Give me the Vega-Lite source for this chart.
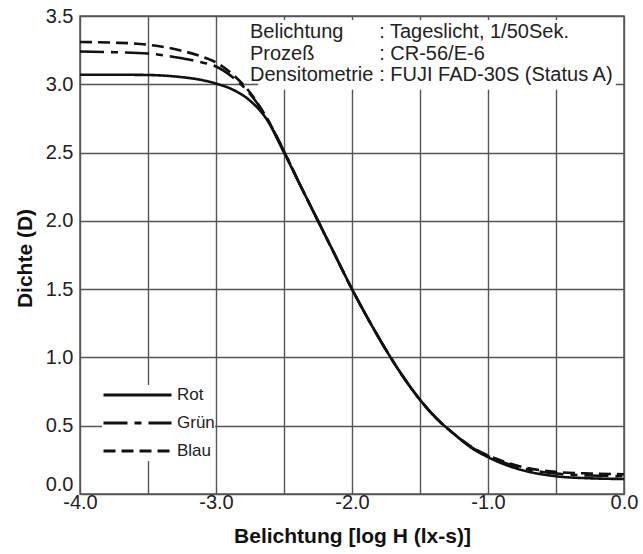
{
  "$schema": "https://vega.github.io/schema/vega-lite/v6.json",
  "width": 544,
  "height": 478,
  "autosize": "none",
  "padding": {"left": 80, "top": 16, "right": 19, "bottom": 60},
  "background": "white",
  "config": {
    "font": "Liberation Sans",
    "view": {"stroke": "#555", "strokeWidth": 1.5},
    "axis": {
      "domain": false,
      "ticks": false,
      "grid": true,
      "gridColor": "#555",
      "gridWidth": 1.4,
      "gridOpacity": 1,
      "labelFont": "Liberation Sans",
      "labelFontSize": 20,
      "labelColor": "#222",
      "titleFont": "Liberation Sans",
      "titleFontSize": 21,
      "titleFontWeight": "bold",
      "titleColor": "#111"
    }
  },
  "datasets": {
    "curves": [
      {"Kurve": "Rot", "logH": -4.0, "D": 3.07},
      {"Kurve": "Rot", "logH": -3.75, "D": 3.07},
      {"Kurve": "Rot", "logH": -3.5, "D": 3.068},
      {"Kurve": "Rot", "logH": -3.25, "D": 3.052},
      {"Kurve": "Rot", "logH": -3.125, "D": 3.035},
      {"Kurve": "Rot", "logH": -3.0, "D": 3.005},
      {"Kurve": "Rot", "logH": -2.875, "D": 2.96},
      {"Kurve": "Rot", "logH": -2.75, "D": 2.88},
      {"Kurve": "Rot", "logH": -2.625, "D": 2.74},
      {"Kurve": "Rot", "logH": -2.5, "D": 2.5},
      {"Kurve": "Rot", "logH": -2.375, "D": 2.25},
      {"Kurve": "Rot", "logH": -2.25, "D": 2.0},
      {"Kurve": "Rot", "logH": -2.125, "D": 1.75},
      {"Kurve": "Rot", "logH": -2.0, "D": 1.5},
      {"Kurve": "Rot", "logH": -1.875, "D": 1.27},
      {"Kurve": "Rot", "logH": -1.75, "D": 1.055},
      {"Kurve": "Rot", "logH": -1.625, "D": 0.86},
      {"Kurve": "Rot", "logH": -1.5, "D": 0.69},
      {"Kurve": "Rot", "logH": -1.375, "D": 0.55},
      {"Kurve": "Rot", "logH": -1.25, "D": 0.44},
      {"Kurve": "Rot", "logH": -1.125, "D": 0.34},
      {"Kurve": "Rot", "logH": -1.0, "D": 0.27},
      {"Kurve": "Rot", "logH": -0.875, "D": 0.215},
      {"Kurve": "Rot", "logH": -0.75, "D": 0.175},
      {"Kurve": "Rot", "logH": -0.5, "D": 0.13},
      {"Kurve": "Rot", "logH": -0.25, "D": 0.115},
      {"Kurve": "Rot", "logH": 0.0, "D": 0.11},
      {"Kurve": "Grün", "logH": -4.0, "D": 3.24},
      {"Kurve": "Grün", "logH": -3.75, "D": 3.235},
      {"Kurve": "Grün", "logH": -3.5, "D": 3.225},
      {"Kurve": "Grün", "logH": -3.25, "D": 3.19},
      {"Kurve": "Grün", "logH": -3.125, "D": 3.165},
      {"Kurve": "Grün", "logH": -3.0, "D": 3.13},
      {"Kurve": "Grün", "logH": -2.875, "D": 3.05},
      {"Kurve": "Grün", "logH": -2.75, "D": 2.93},
      {"Kurve": "Grün", "logH": -2.625, "D": 2.75},
      {"Kurve": "Grün", "logH": -2.5, "D": 2.51},
      {"Kurve": "Grün", "logH": -2.375, "D": 2.25},
      {"Kurve": "Grün", "logH": -2.25, "D": 2.0},
      {"Kurve": "Grün", "logH": -2.125, "D": 1.75},
      {"Kurve": "Grün", "logH": -2.0, "D": 1.5},
      {"Kurve": "Grün", "logH": -1.875, "D": 1.27},
      {"Kurve": "Grün", "logH": -1.75, "D": 1.055},
      {"Kurve": "Grün", "logH": -1.625, "D": 0.86},
      {"Kurve": "Grün", "logH": -1.5, "D": 0.69},
      {"Kurve": "Grün", "logH": -1.375, "D": 0.55},
      {"Kurve": "Grün", "logH": -1.25, "D": 0.44},
      {"Kurve": "Grün", "logH": -1.125, "D": 0.345},
      {"Kurve": "Grün", "logH": -1.0, "D": 0.277},
      {"Kurve": "Grün", "logH": -0.875, "D": 0.228},
      {"Kurve": "Grün", "logH": -0.75, "D": 0.19},
      {"Kurve": "Grün", "logH": -0.5, "D": 0.15},
      {"Kurve": "Grün", "logH": -0.25, "D": 0.135},
      {"Kurve": "Grün", "logH": 0.0, "D": 0.13},
      {"Kurve": "Blau", "logH": -4.0, "D": 3.31},
      {"Kurve": "Blau", "logH": -3.75, "D": 3.305},
      {"Kurve": "Blau", "logH": -3.5, "D": 3.29},
      {"Kurve": "Blau", "logH": -3.25, "D": 3.245},
      {"Kurve": "Blau", "logH": -3.125, "D": 3.21},
      {"Kurve": "Blau", "logH": -3.0, "D": 3.16},
      {"Kurve": "Blau", "logH": -2.875, "D": 3.07},
      {"Kurve": "Blau", "logH": -2.75, "D": 2.94},
      {"Kurve": "Blau", "logH": -2.625, "D": 2.75},
      {"Kurve": "Blau", "logH": -2.5, "D": 2.51},
      {"Kurve": "Blau", "logH": -2.375, "D": 2.25},
      {"Kurve": "Blau", "logH": -2.25, "D": 2.0},
      {"Kurve": "Blau", "logH": -2.125, "D": 1.75},
      {"Kurve": "Blau", "logH": -2.0, "D": 1.5},
      {"Kurve": "Blau", "logH": -1.875, "D": 1.27},
      {"Kurve": "Blau", "logH": -1.75, "D": 1.055},
      {"Kurve": "Blau", "logH": -1.625, "D": 0.86},
      {"Kurve": "Blau", "logH": -1.5, "D": 0.69},
      {"Kurve": "Blau", "logH": -1.375, "D": 0.55},
      {"Kurve": "Blau", "logH": -1.25, "D": 0.44},
      {"Kurve": "Blau", "logH": -1.125, "D": 0.348},
      {"Kurve": "Blau", "logH": -1.0, "D": 0.282},
      {"Kurve": "Blau", "logH": -0.875, "D": 0.235},
      {"Kurve": "Blau", "logH": -0.75, "D": 0.198},
      {"Kurve": "Blau", "logH": -0.5, "D": 0.162},
      {"Kurve": "Blau", "logH": -0.25, "D": 0.15},
      {"Kurve": "Blau", "logH": 0.0, "D": 0.145}
    ]
  },
  "layer": [
    {
      "data": {"values": [{}]},
      "mark": {"type": "rect", "fill": "white", "stroke": null},
      "encoding": {
        "x": {"datum": -2.69, "type": "quantitative"},
        "x2": {"datum": -0.06},
        "y": {"datum": 2.96, "type": "quantitative"},
        "y2": {"datum": 3.47}
      }
    },
    {
      "data": {"name": "curves"},
      "mark": {"type": "line", "interpolate": "monotone", "strokeWidth": 2.6, "color": "#111", "strokeCap": "butt"},
      "encoding": {
        "x": {
          "field": "logH",
          "type": "quantitative",
          "scale": {"domain": [-4, 0], "nice": false, "zero": false},
          "axis": {
            "title": "Belichtung [log H (lx-s)]",
            "values": [-4, -3.5, -3, -2.5, -2, -1.5, -1, -0.5, 0],
            "labelExpr": "datum.value % 1 == 0 ? replace(format(datum.value, '.1f'), '\u2212', '-') : ''",
            "labelPadding": -2,
            "labelBaseline": "top",
            "labelFlush": false,
            "labelOverlap": false,
            "titleY": 48,
            "titleBaseline": "alphabetic"
          }
        },
        "y": {
          "field": "D",
          "type": "quantitative",
          "scale": {"domain": [0, 3.5], "nice": false},
          "axis": {
            "title": "Dichte (D)",
            "values": [0, 0.5, 1, 1.5, 2, 2.5, 3, 3.5],
            "format": ".1f",
            "labelPadding": 7,
            "labelBaseline": {"condition": {"test": "datum.value == 0", "value": "bottom"}, "value": "middle"},
            "labelFlush": false,
            "labelOverlap": false,
            "titleX": -49,
            "titleY": 242,
            "titleAngle": -90,
            "titleBaseline": "alphabetic",
            "titleAlign": "center"
          }
        },
        "strokeDash": {
          "field": "Kurve",
          "type": "nominal",
          "scale": {"domain": ["Rot", "Grün", "Blau"], "range": [[1, 0], [24, 7, 7, 7], [12, 6]]},
          "legend": {
            "title": null,
            "orient": "none",
            "legendX": 22,
            "legendY": 369,
            "padding": 0,
            "fillColor": "white",
            "symbolType": "stroke",
            "symbolSize": 4624,
            "symbolStrokeWidth": 2.8,
            "symbolStrokeColor": "#111",
            "clipHeight": 20,
            "rowPadding": 8,
            "labelOffset": 4,
            "labelFontSize": 17,
            "labelFont": "Liberation Sans",
            "labelColor": "#222"
          }
        }
      }
    },
    {
      "data": {"values": [{}]},
      "mark": {"type": "text", "align": "left", "baseline": "alphabetic", "fontSize": 20, "lineHeight": 21.3, "color": "#222", "text": ["Belichtung", "Prozeß", "Densitometrie"]},
      "encoding": {
        "x": {"datum": -2.75, "type": "quantitative"},
        "y": {"datum": 3.337, "type": "quantitative"}
      }
    },
    {
      "data": {"values": [{}]},
      "mark": {"type": "text", "align": "left", "baseline": "alphabetic", "fontSize": 20, "lineHeight": 21.3, "color": "#222", "text": [": Tageslicht, 1/50Sek.", ": CR-56/E-6", ": FUJI FAD-30S (Status A)"]},
      "encoding": {
        "x": {"datum": -1.8, "type": "quantitative"},
        "y": {"datum": 3.337, "type": "quantitative"}
      }
    }
  ]
}
